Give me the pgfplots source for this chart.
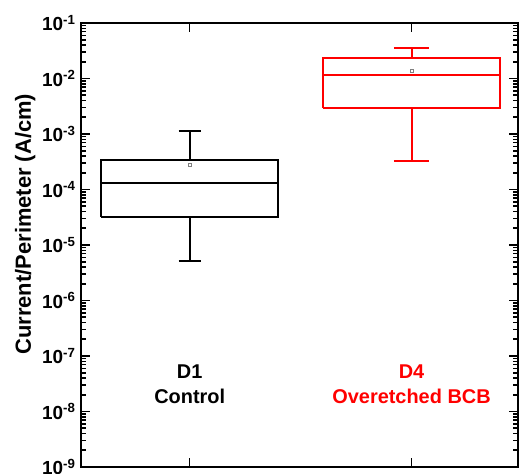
\documentclass[border=0pt]{standalone}
\usepackage{fontspec}
\setmainfont{Liberation Sans}
\usepackage{pgfplots}
\pgfplotsset{compat=1.18}
\definecolor{myred}{RGB}{255,0,0}
\begin{document}
\begin{tikzpicture}
\begin{axis}[name=ax, scale only axis, width=437bp, height=444bp,
  ymode=log, ymin=1e-9, ymax=1e-1, xmin=0.51, xmax=2.48,
  xtick={1,2}, xticklabels={},
  log number format basis/.code 2 args={\textbf{#1}\textsuperscript{\textbf{\pgfmathprintnumber[assume math mode=true]{#2}}}},
  tick align=inside, tick pos=both,
  axis line style={line width=2bp},
  tick style={black, line width=1.6bp},
  major tick length=9bp, minor tick length=5bp,
  tick label style={font=\fontsize{19}{19}\selectfont\bfseries},
  yticklabel style={xshift=-2bp},
  ylabel={Current/Perimeter (A/cm)},
  ylabel style={font=\fontsize{22}{22}\selectfont\bfseries, at={(ticklabel cs:0.547)}},
  every axis plot/.append style={line width=2bp},
  tk/.style={black, line width=1.5bp, forget plot},
  clip=false]
% tick marks (axis decoration)
\pgfplotsinvokeforeach{-9,-8,-7,-6,-5,-4,-3,-2}{
  \pgfplotsinvokeforeach{2,3,4,5,6,7,8,9}{
    \addplot[tk] coordinates {(0.51,##1e#1) (0.5325,##1e#1)};
    \addplot[tk] coordinates {(2.48,##1e#1) (2.4575,##1e#1)};
  }
}
\pgfplotsinvokeforeach{-8,-7,-6,-5,-4,-3,-2}{
  \addplot[tk] coordinates {(0.51,1e#1) (0.5506,1e#1)};
  \addplot[tk] coordinates {(2.48,1e#1) (2.4394,1e#1)};
}
\pgfplotsinvokeforeach{1,2}{
  \addplot[tk] coordinates {(#1,1e-1) (#1,6.89e-2)};
  \addplot[tk] coordinates {(#1,1e-9) (#1,1.45e-9)};
}
% D1 Control box
\addplot[black] coordinates {(0.6,3.16e-5) (1.4,3.16e-5) (1.4,3.36e-4) (0.6,3.36e-4) (0.6,3.16e-5)};
\addplot[black] coordinates {(0.6,1.33e-4) (1.4,1.33e-4)};
\addplot[black] coordinates {(1,3.36e-4) (1,1.15e-3)};
\addplot[black] coordinates {(0.95,1.15e-3) (1.05,1.15e-3)};
\addplot[black] coordinates {(1,3.16e-5) (1,5.15e-6)};
\addplot[black] coordinates {(0.95,5.15e-6) (1.05,5.15e-6)};
% D4 box
\addplot[myred] coordinates {(1.6,2.94e-3) (2.4,2.94e-3) (2.4,2.31e-2) (1.6,2.31e-2) (1.6,2.94e-3)};
\addplot[myred] coordinates {(1.6,1.14e-2) (2.4,1.14e-2)};
\addplot[myred] coordinates {(2,2.31e-2) (2,3.59e-2)};
\addplot[myred] coordinates {(1.92,3.59e-2) (2.08,3.59e-2)};
\addplot[myred] coordinates {(2,2.94e-3) (2,3.27e-4)};
\addplot[myred] coordinates {(1.92,3.27e-4) (2.08,3.27e-4)};
% means
\addplot[only marks, mark=square, mark size=1.6bp, gray, line width=0.6bp] coordinates {(1,2.8e-4) (2,1.38e-2)};
\node[font=\fontsize{20}{25.5}\selectfont\bfseries, align=center, black] at (axis cs:1,3.1e-8) {D1\\Control};
\node[font=\fontsize{20}{25.5}\selectfont\bfseries, align=center, myred] at (axis cs:2,3.1e-8) {D4\\Overetched BCB};
\end{axis}
\pgfresetboundingbox
\path[use as bounding box] ([xshift=-81bp,yshift=-7bp]ax.south west) rectangle ([xshift=4bp,yshift=23bp]ax.north east);
\end{tikzpicture}
\end{document}
